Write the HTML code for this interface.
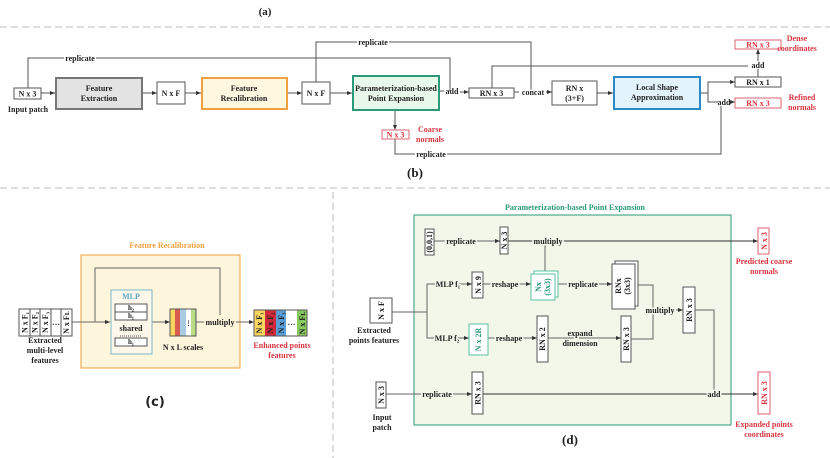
<!DOCTYPE html>
<html><head><meta charset="utf-8"><style>
html,body{margin:0;padding:0;background:#fff;}
svg{display:block;}
text{font-family:"Liberation Serif",serif;font-weight:bold;font-size:8px;fill:#222;}
.r{fill:#d9343f;}
.t{fill:#2a9a78;}
.o{fill:#f0a040;}
.b{fill:#5aa8c8;}
.c{text-anchor:middle;}
</style></head><body>
<svg width="830" height="458" viewBox="0 0 830 458" xmlns="http://www.w3.org/2000/svg">
<defs>
<marker id="a" markerWidth="6" markerHeight="6" refX="5" refY="3" orient="auto" markerUnits="userSpaceOnUse"><path d="M0,1 L5,3 L0,5 z" fill="#333"/></marker>
</defs>
<!-- (a) and separators -->
<text x="265" y="15" class="c" style="font-size:11px">(a)</text>
<line x1="0" y1="27" x2="830" y2="27" stroke="#bbb" stroke-dasharray="7,4"/>
<line x1="0" y1="188" x2="830" y2="188" stroke="#bbb" stroke-dasharray="7,4"/>
<line x1="333" y1="192" x2="333" y2="458" stroke="#bbb" stroke-dasharray="7,4"/>

<!-- (b) -->
<g stroke="#555" stroke-width="1" fill="none">
<polyline points="28,88 28,58 450,58 450,91"/>
<polyline points="316,82 316,42 531,42 531,92"/>
<line x1="41" y1="93" x2="55" y2="93" marker-end="url(#a)"/>
<line x1="142" y1="93" x2="157" y2="93" marker-end="url(#a)"/>
<line x1="185" y1="93" x2="201" y2="93" marker-end="url(#a)"/>
<line x1="287" y1="93" x2="302" y2="93" marker-end="url(#a)"/>
<line x1="330" y1="93" x2="352" y2="93" marker-end="url(#a)"/>
<line x1="439" y1="91" x2="444" y2="91"/>
<line x1="460" y1="92" x2="469" y2="92" marker-end="url(#a)"/>
<line x1="514" y1="92" x2="519" y2="92"/>
<line x1="546" y1="92" x2="552" y2="92" marker-end="url(#a)"/>
<line x1="597" y1="93" x2="613" y2="93" marker-end="url(#a)"/>
<polyline points="492,88 492,66 748,66"/>
<polyline points="700,93 708,93 708,82 735,82" marker-end="url(#a)"/>
<polyline points="708,93 708,102 718,102"/>
<line x1="730" y1="102" x2="735" y2="102" marker-end="url(#a)"/>
<line x1="758" y1="77" x2="758" y2="69"/>
<line x1="758" y1="61" x2="758" y2="49" marker-end="url(#a)"/>
<line x1="395" y1="110" x2="395" y2="130" marker-end="url(#a)"/>
<polyline points="395,139 395,154 721,154 721,106"/>
</g>
<rect x="14" y="88" width="27" height="11" fill="#fff" stroke="#555"/>
<text x="27.5" y="96.5" class="c">N x 3</text>
<text x="28" y="112" class="c">Input patch</text>
<rect x="56" y="78" width="86" height="31" fill="#e3e3e3" stroke="#777" stroke-width="2"/>
<text x="99" y="91" class="c">Feature</text><text x="99" y="101" class="c">Extraction</text>
<rect x="157" y="82" width="28" height="22" fill="#fff" stroke="#555"/>
<text x="171" y="96" class="c">N x F</text>
<rect x="202" y="78" width="85" height="31" fill="#fff7e0" stroke="#f0a040" stroke-width="2"/>
<text x="244" y="91" class="c">Feature</text><text x="244" y="101" class="c">Recalibration</text>
<rect x="302" y="82" width="28" height="22" fill="#fff" stroke="#555"/>
<text x="316" y="96" class="c">N x F</text>
<rect x="353" y="76" width="86" height="34" fill="#e8f8ea" stroke="#2a9a78" stroke-width="2"/>
<text x="396" y="91" class="c">Parameterization-based</text><text x="396" y="101" class="c">Point Expansion</text>
<text x="80" y="61" class="c" style="paint-order:stroke;stroke:#fff;stroke-width:3">replicate</text>
<text x="373" y="45" class="c" style="paint-order:stroke;stroke:#fff;stroke-width:3">replicate</text>
<text x="452" y="94" class="c">add</text>
<rect x="469" y="88" width="45" height="10" fill="#fff" stroke="#555"/>
<text x="491.5" y="96" class="c">RN x 3</text>
<text x="533" y="95" class="c" style="paint-order:stroke;stroke:#fff;stroke-width:3">concat</text>
<rect x="552" y="81" width="45" height="24" fill="#fff" stroke="#555"/>
<text x="574.5" y="91" class="c">RN x</text><text x="574.5" y="101" class="c">(3+F)</text>
<rect x="614" y="77" width="86" height="32" fill="#e3f3fb" stroke="#2a8ac8" stroke-width="2"/>
<text x="657" y="90" class="c">Local Shape</text><text x="657" y="100" class="c">Approximation</text>
<rect x="735" y="77" width="46" height="10" fill="#fff" stroke="#555"/>
<text x="758" y="85" class="c">RN x 1</text>
<text x="758" y="68" class="c">add</text>
<rect x="735" y="40" width="46" height="9" fill="#fff" stroke="#e06070"/>
<text x="758" y="47.5" class="c r">RN x 3</text>
<text x="797" y="41" class="c r">Dense</text><text x="797" y="51" class="c r">coordinates</text>
<text x="724" y="105" class="c">add</text>
<rect x="735" y="98" width="46" height="10" fill="#fff" stroke="#e06070"/>
<text x="758" y="106" class="c r">RN x 3</text>
<text x="802" y="100" class="c r">Refined</text><text x="802" y="110" class="c r">normals</text>
<rect x="382" y="130" width="27" height="9" fill="#fff" stroke="#e06070"/>
<text x="395.5" y="137.5" class="c r">N x 3</text>
<text x="430" y="132" class="c r">Coarse</text><text x="430" y="142" class="c r">normals</text>
<text x="431" y="157" class="c" style="paint-order:stroke;stroke:#fff;stroke-width:3">replicate</text>
<text x="415" y="177" class="c" style="font-size:13px">(b)</text>

<!-- (c) -->
<text x="167" y="248" class="c o">Feature Recalibration</text>
<rect x="81" y="255" width="159" height="113" fill="#fdf5dc" stroke="#f0a040"/>
<g stroke="#666" fill="none">
<line x1="72" y1="322" x2="110" y2="322" marker-end="url(#a)"/>
<polyline points="95,322 95,268 220,268 220,315"/>
<line x1="152" y1="322" x2="170" y2="322" marker-end="url(#a)"/>
<line x1="196" y1="322" x2="208" y2="322"/>
<line x1="232" y1="322" x2="254" y2="322" marker-end="url(#a)"/>
</g>
<g stroke="#555" fill="#fff">
<rect x="19" y="309" width="53" height="27"/>
<line x1="30" y1="309" x2="30" y2="336"/><line x1="40" y1="309" x2="40" y2="336"/><line x1="51" y1="309" x2="51" y2="336"/><line x1="61" y1="309" x2="61" y2="336"/>
</g>
<g style="font-size:7px">
<text transform="translate(27.5,322.5) rotate(-90)" class="c">N x F₁</text>
<text transform="translate(37.5,322.5) rotate(-90)" class="c">N x F₂</text>
<text transform="translate(48,322.5) rotate(-90)" class="c">N x F₃</text>
<text x="56" y="325" class="c">…</text>
<text transform="translate(69,322.5) rotate(-90)" class="c">N x Fʟ</text>
</g>
<text x="45" y="343" class="c">Extracted</text><text x="45" y="353" class="c">multi-level</text><text x="45" y="363" class="c">features</text>
<rect x="111" y="290" width="41" height="64" fill="#fff8ea" stroke="#7ab8c8"/>
<text x="131" y="299" class="c b">MLP</text>
<rect x="115" y="304" width="32" height="8" fill="#fff" stroke="#555"/>
<rect x="115" y="312" width="32" height="8" fill="#fff" stroke="#555"/>
<rect x="115" y="338" width="32" height="8" fill="#fff" stroke="#555"/>
<text x="131" y="310" class="c" style="font-size:7px">h₂</text>
<text x="131" y="318" class="c" style="font-size:7px">h₁</text>
<text x="131" y="344" class="c" style="font-size:7px">h₁</text>
<text x="131" y="331" class="c">shared</text>
<line x1="120" y1="336" x2="142" y2="336" stroke="#555" stroke-dasharray="1,1"/>
<rect x="170" y="309" width="5" height="27" fill="#f8d660"/>
<rect x="175" y="309" width="5" height="27" fill="#d85a50"/>
<rect x="180" y="309" width="6" height="27" fill="#a8cce0"/>
<rect x="186" y="309" width="5" height="27" fill="#fff"/>
<rect x="191" y="309" width="5" height="27" fill="#b8dc88"/>
<rect x="170" y="309" width="26" height="27" fill="none" stroke="#555"/>
<text x="188.5" y="325" class="c" style="font-size:6px">⋮</text>
<text x="183" y="350" class="c">N x L scales</text>
<text x="220" y="325" class="c" style="paint-order:stroke;stroke:#fdf5dc;stroke-width:3">multiply</text>
<rect x="254" y="310" width="11" height="26" fill="#f8d660"/>
<rect x="265" y="310" width="11" height="26" fill="#d02a3a"/>
<rect x="276" y="310" width="10" height="26" fill="#5aa0d8"/>
<rect x="286" y="310" width="11" height="26" fill="#fff"/>
<rect x="297" y="310" width="10" height="26" fill="#88c860"/>
<rect x="254" y="310" width="53" height="26" fill="none" stroke="#555"/>
<g style="font-size:7px">
<text transform="translate(262,323) rotate(-90)" class="c">N x F₁</text>
<text transform="translate(273,323) rotate(-90)" class="c">N x F₂</text>
<text transform="translate(284,323) rotate(-90)" class="c">N x F₃</text>
<text x="291.5" y="325" class="c">…</text>
<text transform="translate(305,323) rotate(-90)" class="c">N x Fʟ</text>
</g>
<text x="282" y="348" class="c r">Enhanced points</text><text x="282" y="358" class="c r">features</text>
<text x="155" y="406" class="c" style="font-size:13px;font-family:'DejaVu Sans',sans-serif">(c)</text>

<!-- (d) -->
<text x="575" y="210" class="c t">Parameterization-based Point Expansion</text>
<rect x="414" y="215" width="317" height="210" fill="#f2f7ea" stroke="#2a9a78"/>
<g stroke="#666" fill="none">
<line x1="434" y1="241" x2="500" y2="241" marker-end="url(#a)"/>
<line x1="508" y1="241" x2="758" y2="241" stroke="#333" marker-end="url(#a)"/>
<line x1="545" y1="245" x2="545" y2="271"/>
<polyline points="392,312 427,312"/>
<polyline points="427,338 427,284 472,284" marker-end="url(#a)"/>
<polyline points="427,312 427,338 469,338" marker-end="url(#a)"/>
<line x1="483" y1="284" x2="531" y2="284" marker-end="url(#a)"/>
<line x1="558" y1="284" x2="612" y2="284" marker-end="url(#a)"/>
<line x1="488" y1="338" x2="537" y2="338" marker-end="url(#a)"/>
<line x1="548" y1="338" x2="621" y2="338" marker-end="url(#a)"/>
<polyline points="638,285 653,285 653,339 631,339"/>
<line x1="668" y1="310" x2="683" y2="310" marker-end="url(#a)"/>
<polyline points="695,310 714,310 714,392"/>
<line x1="386" y1="394" x2="472" y2="394" marker-end="url(#a)"/>
<line x1="483" y1="394" x2="758" y2="394" stroke="#333" marker-end="url(#a)"/>
</g>
<rect x="425" y="229" width="9" height="26" fill="#fff" stroke="#555"/>
<text transform="translate(432,242) rotate(-90)" class="c">(0,0,1)</text>
<text x="461" y="244" class="c" style="paint-order:stroke;stroke:#f2f7ea;stroke-width:3">replicate</text>
<rect x="500" y="227" width="8" height="27" fill="#fff" stroke="#555"/>
<text transform="translate(507,240.5) rotate(-90)" class="c">N x 3</text>
<text x="548" y="244" class="c" style="paint-order:stroke;stroke:#f2f7ea;stroke-width:3">multiply</text>
<rect x="758" y="228" width="11" height="26" fill="#fff" stroke="#e06070"/>
<text transform="translate(767,241) rotate(-90)" class="c r">N x 3</text>
<text x="764" y="264" class="c r">Predicted coarse</text><text x="764" y="274" class="c r">normals</text>
<rect x="370" y="298" width="22" height="25" fill="#fff" stroke="#555"/>
<text transform="translate(384,310.5) rotate(-90)" class="c">N x F</text>
<text x="374" y="333" class="c">Extracted</text><text x="374" y="343" class="c">points features</text>
<text x="448" y="287" class="c" style="paint-order:stroke;stroke:#f2f7ea;stroke-width:3">MLP f₁</text>
<rect x="472" y="272" width="11" height="26" fill="#fff" stroke="#555"/>
<text transform="translate(481,285) rotate(-90)" class="c">N x 9</text>
<text x="505" y="287" class="c" style="paint-order:stroke;stroke:#f2f7ea;stroke-width:3">reshape</text>
<rect x="534" y="271" width="24" height="26" fill="#fff" stroke="#5ac0a0"/>
<rect x="531" y="274" width="24" height="26" fill="#fff" stroke="#5ac0a0"/>
<text transform="translate(541,287) rotate(-90)" class="c t">Nx</text>
<text transform="translate(550,287) rotate(-90)" class="c t">(3x3)</text>
<text x="583" y="287" class="c" style="paint-order:stroke;stroke:#f2f7ea;stroke-width:3">replicate</text>
<rect x="615" y="261" width="23" height="45" fill="#fff" stroke="#555"/>
<rect x="612" y="264" width="23" height="45" fill="#fff" stroke="#555"/>
<text transform="translate(621,286) rotate(-90)" class="c">RNx</text>
<text x="0" y="0" transform="translate(630,286) rotate(-90)" class="c">(3x3)</text>
<text x="447" y="341" class="c" style="paint-order:stroke;stroke:#f2f7ea;stroke-width:3">MLP f₂</text>
<rect x="469" y="324" width="19" height="31" fill="#fff" stroke="#5ac0a0"/>
<text transform="translate(481,339.5) rotate(-90)" class="c t">N x 2R</text>
<text x="509" y="341" class="c" style="paint-order:stroke;stroke:#f2f7ea;stroke-width:3">reshape</text>
<rect x="537" y="316" width="11" height="46" fill="#fff" stroke="#555"/>
<text transform="translate(545,339) rotate(-90)" class="c">RN x 2</text>
<text x="580" y="336" class="c" style="paint-order:stroke;stroke:#f2f7ea;stroke-width:3">expand</text>
<text x="580" y="346" class="c" style="paint-order:stroke;stroke:#f2f7ea;stroke-width:3">dimension</text>
<rect x="621" y="316" width="10" height="46" fill="#fff" stroke="#555"/>
<text transform="translate(629,339) rotate(-90)" class="c">RN x 3</text>
<text x="660" y="313" class="c" style="paint-order:stroke;stroke:#f2f7ea;stroke-width:3">multiply</text>
<rect x="683" y="287" width="12" height="46" fill="#fff" stroke="#555"/>
<text transform="translate(692,310) rotate(-90)" class="c">RN x 3</text>
<rect x="376" y="382" width="10" height="26" fill="#fff" stroke="#555"/>
<text transform="translate(384,395) rotate(-90)" class="c">N x 3</text>
<text x="382" y="420" class="c">Input</text><text x="382" y="430" class="c">patch</text>
<text x="437" y="397" class="c" style="paint-order:stroke;stroke:#f2f7ea;stroke-width:3">replicate</text>
<rect x="472" y="372" width="11" height="42" fill="#fff" stroke="#555"/>
<text transform="translate(480.5,393) rotate(-90)" class="c">RN x 3</text>
<text x="714" y="397" class="c" style="paint-order:stroke;stroke:#f2f7ea;stroke-width:3">add</text>
<rect x="758" y="372" width="12" height="42" fill="#fff" stroke="#e06070"/>
<text transform="translate(767,393) rotate(-90)" class="c r">RN x 3</text>
<text x="764" y="427" class="c r">Expanded points</text><text x="764" y="437" class="c r">coordinates</text>
<text x="570" y="444" class="c" style="font-size:13px">(d)</text>
</svg>
</body></html>
